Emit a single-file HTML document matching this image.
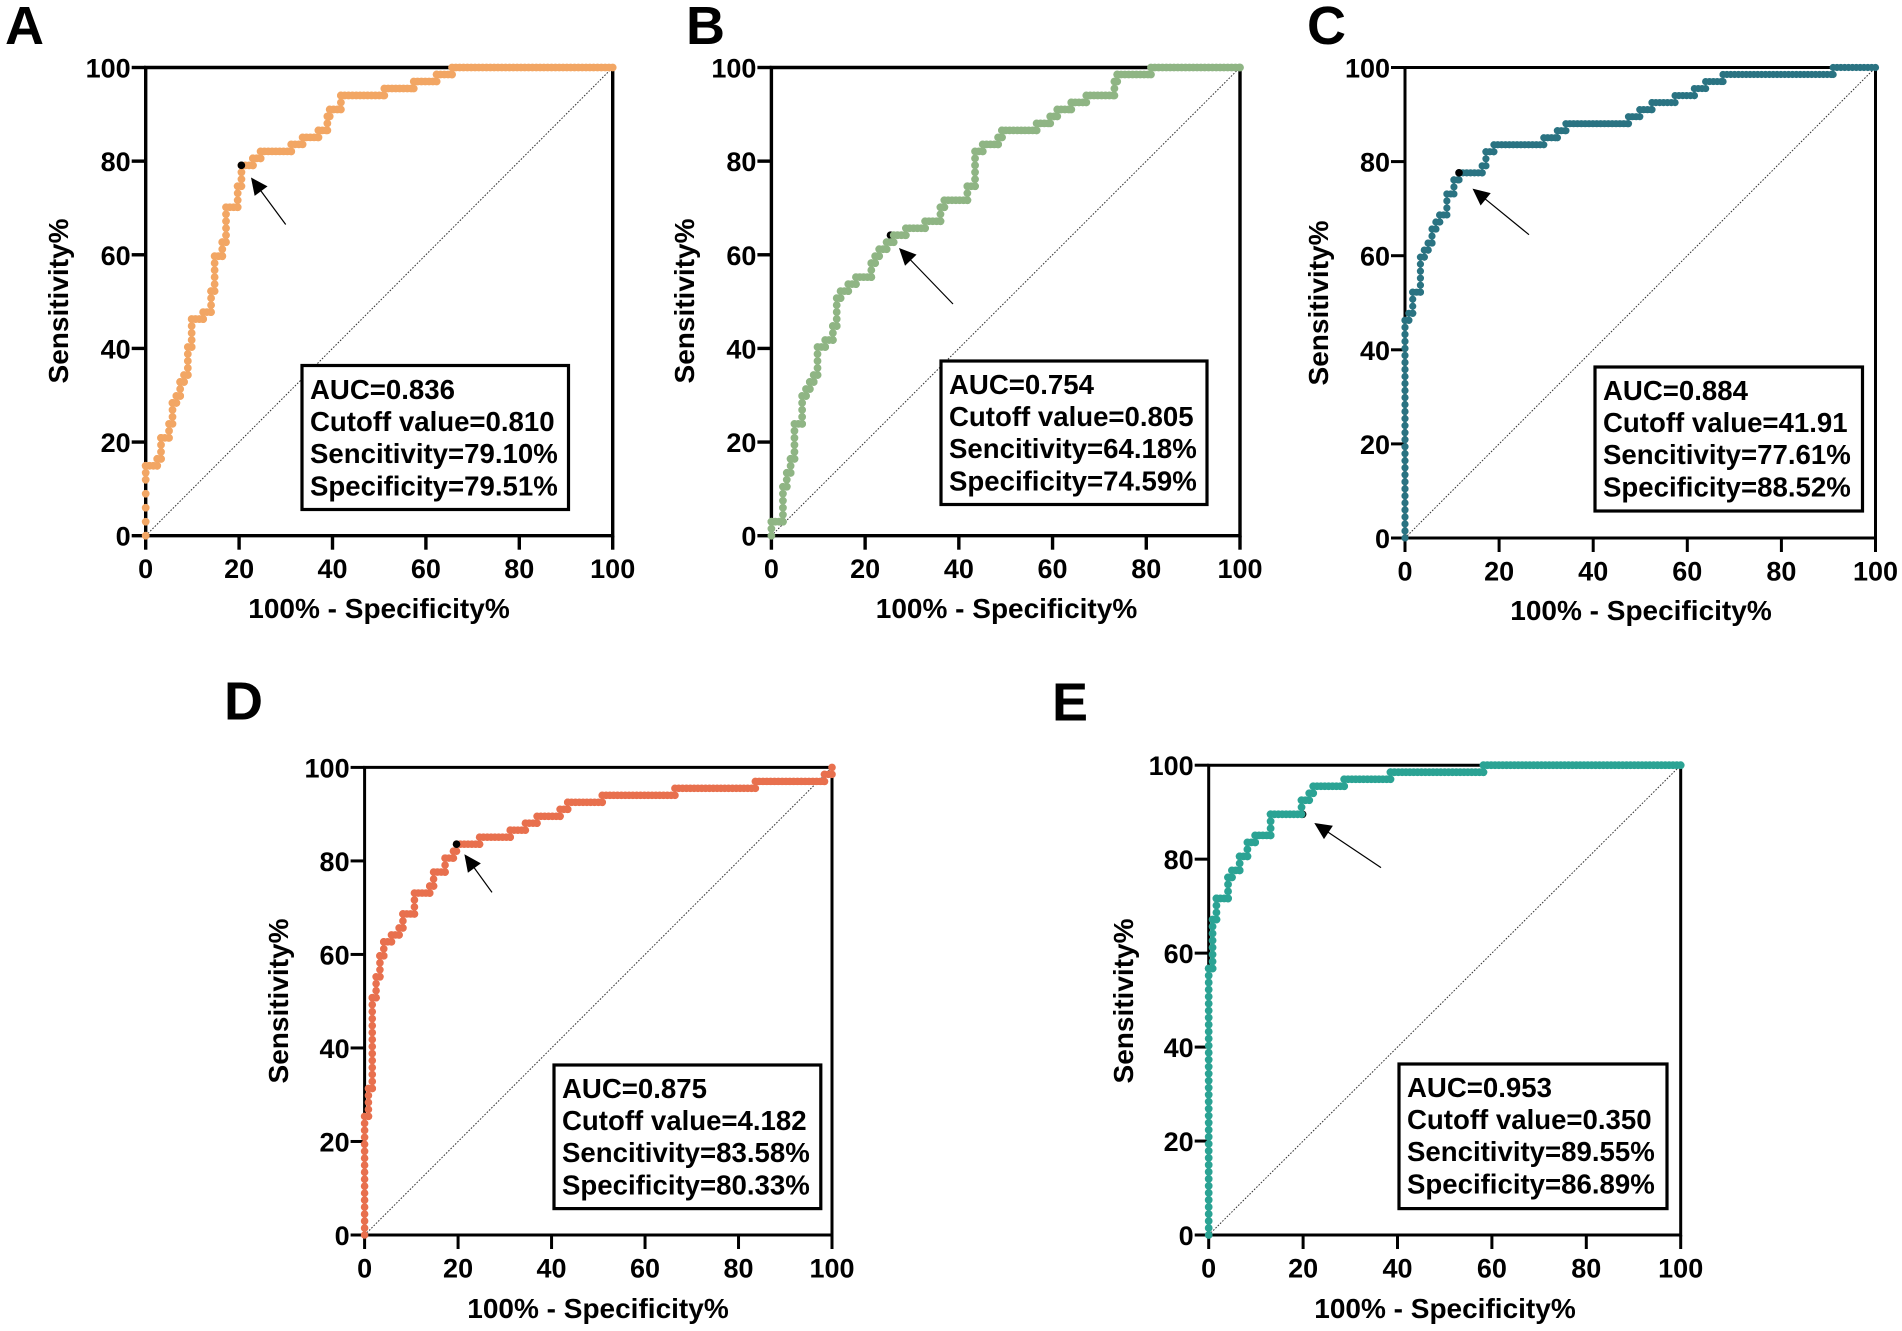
<!DOCTYPE html>
<html lang="en">
<head>
<meta charset="utf-8">
<title>ROC curves A–E</title>
<style>
html,body{margin:0;padding:0;background:#fff}
svg{display:block}
text{font-family:"Liberation Sans",Arial,sans-serif;font-weight:bold;fill:#000}
.panel-letter{font-size:54px}
.axis-title{font-size:28px;text-anchor:middle}
.legend-text{font-size:27.6px}
.tick-text{font-size:27px}
.legend-frame{fill:#fff;stroke:#000;stroke-width:3.2}
</style>
</head>
<body>
<svg id="figure" xmlns="http://www.w3.org/2000/svg" width="1902" height="1331" viewBox="0 0 1902 1331">
  <g id="panel-a">
    <text class="panel-letter" x="5" y="44">A</text>
    <text class="axis-title" x="379" y="618">100% - Specificity%</text>
    <text class="axis-title" transform="translate(68 301) rotate(-90)">Sensitivity%</text>
  </g>
  <g id="panel-b">
    <text class="panel-letter" x="686" y="44">B</text>
    <text class="axis-title" x="1006.5" y="618">100% - Specificity%</text>
    <text class="axis-title" transform="translate(694 301) rotate(-90)">Sensitivity%</text>
  </g>
  <g id="panel-c">
    <text class="panel-letter" x="1307" y="44">C</text>
    <text class="axis-title" x="1641" y="620">100% - Specificity%</text>
    <text class="axis-title" transform="translate(1328 303) rotate(-90)">Sensitivity%</text>
  </g>
  <g id="panel-d">
    <text class="panel-letter" x="224" y="719.5">D</text>
    <text class="axis-title" x="598" y="1318">100% - Specificity%</text>
    <text class="axis-title" transform="translate(288 1001) rotate(-90)">Sensitivity%</text>
  </g>
  <g id="panel-e">
    <text class="panel-letter" x="1052" y="720.5">E</text>
    <text class="axis-title" x="1445" y="1318">100% - Specificity%</text>
    <text class="axis-title" transform="translate(1133 1001) rotate(-90)">Sensitivity%</text>
  </g>
</svg>
<script>
// Chart data: staircase corners (x = 100% - specificity, y = sensitivity)
const tickLabels = [0, 20, 40, 60, 80, 100];

const fprA = [0,0,0,2.46,3.28,5,5.74,6.56,7.38,8.2,9.02,9.84,12.3,14,14.76,16.4,17.2,19.7,20.5,22.96,24.6,31.16,33.6,37,38.9,39.4,41.8,51.1,57.4,62.3,65.6,100];
const tprA = [0,11.94,14.93,16.42,20.9,23.88,28.36,29.85,32.84,34.33,40.3,46.27,47.76,52.24,59.7,62.69,70.15,74.63,79.1,80.6,82.09,83.58,85.07,86.57,89.55,91.04,94.03,95.52,97.01,98.51,100,100];

const fprB = [0,0,2.46,3.28,4.1,4.92,6.56,7.38,8.2,9.02,9.84,11.48,13.12,13.94,14.76,16.4,18.04,21.32,22.14,23,24.6,26.1,28.7,32.8,36.08,36.9,41.82,43.46,45.1,48.38,49.2,56.6,59.5,61,64,67.2,73.2,73.8,81,100];
const tprB = [0,2.99,10.45,13.43,16.42,23.88,29.85,31.34,32.84,34.33,40.3,41.79,44.78,50.75,52.24,53.73,55.22,58.21,59.7,61.19,62.69,64.18,65.67,67.16,70.15,71.64,74.63,82.09,83.58,85.07,86.57,88.06,89.55,91.04,92.54,94.03,97.01,98.51,100,100];

const fprC = [0,0,0.82,1.64,3.28,4.1,4.92,5.74,6.56,7.38,8.9,10.4,11.48,16.4,17.2,18.9,29.5,32.4,34.2,47.5,49.9,52.5,57.4,61.5,63.9,67.6,91,100];
const tprC = [0,46.27,47.76,52.24,59.7,61.19,62.69,65.67,67.16,68.66,73.13,76.12,77.61,79.1,82.09,83.58,85.07,86.57,88.06,89.55,91.04,92.54,94.03,95.52,97.01,98.51,100,100];

const fprD = [0,0,0.82,1.64,2.46,3.28,4.1,5.74,7.38,8.2,10.66,13.94,14.76,17.22,19,19.67,24.6,31.16,34.4,36.9,41.82,43.46,50.84,66.4,83.6,98.4,100];
const tprD = [0,25.37,31.34,50.75,55.22,59.7,62.69,64.18,65.67,68.66,73.13,74.63,77.61,80.6,82.09,83.58,85.07,86.57,88.06,89.55,91.04,92.54,94.03,95.52,97.01,98.51,100];

const fprE = [0,0,0.82,1.64,4.1,4.92,6.56,8.2,9.84,13.12,19.67,21.3,22.14,28.7,38.52,58.2,100];
const tprE = [0,56.72,67.16,71.64,76.12,77.61,80.6,83.58,85.07,89.55,92.54,94.03,95.52,97.01,98.51,100,100];

const cutoffFprA = 20.49, cutoffTprA = 79.10;
const cutoffFprB = 25.41, cutoffTprB = 64.18;
const cutoffFprC = 11.48, cutoffTprC = 77.61;
const cutoffFprD = 19.67, cutoffTprD = 83.58;
const cutoffFprE = 19.9, cutoffTprE = 89.55;

const legendLinesA = ["AUC=0.836","Cutoff value=0.810","Sencitivity=79.10%","Specificity=79.51%"];
const legendLinesB = ["AUC=0.754","Cutoff value=0.805","Sencitivity=64.18%","Specificity=74.59%"];
const legendLinesC = ["AUC=0.884","Cutoff value=41.91","Sencitivity=77.61%","Specificity=88.52%"];
const legendLinesD = ["AUC=0.875","Cutoff value=4.182","Sencitivity=83.58%","Specificity=80.33%"];
const legendLinesE = ["AUC=0.953","Cutoff value=0.350","Sencitivity=89.55%","Specificity=86.89%"];

const NEGATIVES = 122, POSITIVES = 67;
const SVG_NS = 'http://www.w3.org/2000/svg';

function makeEl(tag, parent) {
  const el = document.createElementNS(SVG_NS, tag);
  parent.appendChild(el);
  return el;
}

function drawPanel(p) {
  const root = document.getElementById('panel-' + p.id);
  const sx = v => p.x0 + (p.x1 - p.x0) * v / 100;
  const sy = v => p.y0 + (p.y1 - p.y0) * v / 100;

  // diagonal reference line
  const diag = makeEl('line', root);
  
  
  diag.setAttribute('x1', sx(0)); diag.setAttribute('y1', sy(0));
  diag.setAttribute('x2', sx(100)); diag.setAttribute('y2', sy(100));
  diag.setAttribute('stroke', '#333');
  diag.setAttribute('stroke-width', '1');
  diag.setAttribute('stroke-dasharray', '1.6 1.6');

  // frame
  const frame = makeEl('path', root);
  
  
  frame.setAttribute('d', `M${sx(0)} ${sy(0)}V${sy(100)}H${sx(100)}V${sy(0)}Z`);
  frame.setAttribute('fill', 'none');
  frame.setAttribute('stroke', '#000');
  frame.setAttribute('stroke-width', p.axisWidth);

  // ticks and tick labels
  tickLabels.forEach(t => {
    const xt = makeEl('line', root);
    
    
    xt.setAttribute('x1', sx(t)); xt.setAttribute('x2', sx(t));
    xt.setAttribute('y1', sy(0)); xt.setAttribute('y2', sy(0) + 14);
    xt.setAttribute('stroke', '#000');
    xt.setAttribute('stroke-width', p.axisWidth);

    const yt = makeEl('line', root);
    
    
    yt.setAttribute('x1', sx(0) - 14); yt.setAttribute('x2', sx(0));
    yt.setAttribute('y1', sy(t)); yt.setAttribute('y2', sy(t));
    yt.setAttribute('stroke', '#000');
    yt.setAttribute('stroke-width', p.axisWidth);

    const xl = makeEl('text', root);
    
    
    xl.setAttribute('class', 'tick-text');
    xl.setAttribute('text-anchor', 'middle');
    xl.setAttribute('x', sx(t));
    xl.setAttribute('y', sy(0) + 42.5);
    xl.textContent = t;

    const yl = makeEl('text', root);
    
    
    yl.setAttribute('class', 'tick-text');
    yl.setAttribute('text-anchor', 'end');
    yl.setAttribute('x', sx(0) - 15);
    yl.setAttribute('y', sy(t) + 10);
    yl.textContent = t;
  });

  const series = makeEl('g', root);
  
  

  function cutoffDot() {
    const dot = makeEl('circle', root);
    
    
    dot.setAttribute('cx', sx(p.cutX));
    dot.setAttribute('cy', sy(p.cutY));
    dot.setAttribute('r', 3.8);
    dot.setAttribute('fill', '#000');
  }
  if (p.cutUnder) cutoffDot();
  root.appendChild(series);

  // staircase drawn as round-capped dotted segments, with an optional thin connector
  const xStep = Math.abs(sx(100 / NEGATIVES) - sx(0));
  const yStep = Math.abs(sy(100 / POSITIVES) - sy(0));
  const addSeg = (x1, y1, x2, y2, gap) => {
    if (Math.abs(x2 - x1) < 0.01 && Math.abs(y2 - y1) < 0.01) return;
    if (p.connector) {
      const link = makeEl('path', series);
      
      
      link.setAttribute('d', `M${x1} ${y1}L${x2} ${y2}`);
      link.setAttribute('stroke', p.color);
      link.setAttribute('stroke-width', p.connector);
    }
    const seg = makeEl('path', series);
    
    
    seg.setAttribute('d', `M${x1} ${y1}L${x2} ${y2}`);
    seg.setAttribute('fill', 'none');
    seg.setAttribute('stroke', p.color);
    seg.setAttribute('stroke-width', p.dot * 2);
    seg.setAttribute('stroke-linecap', 'round');
    seg.setAttribute('stroke-dasharray', `0 ${gap}`);
  };
  for (let i = 0; i < p.fpr.length - 1; i++) {
    const xa = p.fpr[i], xb = p.fpr[i + 1], ya = p.tpr[i], yb = p.tpr[i + 1];
    addSeg(sx(xa), sy(ya), sx(xb), sy(ya), xStep);
    const gap = yb <= p.sparseBelow ? yStep * 2 : yStep;
    addSeg(sx(xb), sy(ya), sx(xb), sy(yb), gap);
  }
  const endDot = makeEl('circle', series);
  
  
  endDot.setAttribute('cx', sx(p.fpr[p.fpr.length - 1]));
  endDot.setAttribute('cy', sy(p.tpr[p.tpr.length - 1]));
  endDot.setAttribute('r', p.dot);
  endDot.setAttribute('fill', p.color);

  if (!p.cutUnder) cutoffDot();

  // arrow
  const [tx, ty, hx, hy] = p.arrow;
  const len = Math.hypot(hx - tx, hy - ty), ux = (hx - tx) / len, uy = (hy - ty) / len;
  const shaft = makeEl('line', root);
  
  
  shaft.setAttribute('x1', tx); shaft.setAttribute('y1', ty);
  shaft.setAttribute('x2', hx - ux * 12); shaft.setAttribute('y2', hy - uy * 12);
  shaft.setAttribute('stroke', '#000');
  shaft.setAttribute('stroke-width', '1.2');
  const head = makeEl('polygon', root);
  
  
  const bx = hx - ux * 17, by = hy - uy * 17;
  head.setAttribute('points', `${hx},${hy} ${bx - uy * 8},${by + ux * 8} ${bx + uy * 8},${by - ux * 8}`);
  head.setAttribute('fill', '#000');

  // legend
  const box = makeEl('rect', root);
  
  
  box.setAttribute('class', 'legend-frame');
  box.setAttribute('x', p.box[0]); box.setAttribute('y', p.box[1]);
  box.setAttribute('width', p.box[2] - p.box[0]);
  box.setAttribute('height', p.box[3] - p.box[1]);
  p.legend.forEach((line, i) => {
    const lt = makeEl('text', root);
    
    
    lt.setAttribute('class', 'legend-text');
    lt.setAttribute('x', p.box[0] + 8);
    lt.setAttribute('y', p.textY + i * 32.2);
    lt.textContent = line;
  });
}

drawPanel({id:'a',x0:145.7,x1:612.7,y0:535.7,y1:67.5,axisWidth:3.4,color:'#F2A664',dot:3.9,fpr:fprA,tpr:tprA,sparseBelow:12,cutX:cutoffFprA,cutY:cutoffTprA,cutUnder:false,arrow:[285.7,224.5,251,177.5],box:[302,365.5,568.5,509.5],textY:398.8,legend:legendLinesA});
drawPanel({id:'b',x0:771.4,x1:1240,y0:535.7,y1:67.5,axisWidth:3.4,color:'#8FB584',dot:3.9,fpr:fprB,tpr:tprB,sparseBelow:0,cutX:cutoffFprB,cutY:cutoffTprB,cutUnder:true,arrow:[953,304,899,248],box:[941,361,1207,504.5],textY:393.8,legend:legendLinesB});
drawPanel({id:'c',x0:1405,x1:1875.5,y0:538,y1:67.5,axisWidth:3,color:'#2A7382',dot:3.6,connector:1.6,fpr:fprC,tpr:tprC,sparseBelow:0,cutX:cutoffFprC,cutY:cutoffTprC,cutUnder:false,arrow:[1529,234.7,1472.5,188.6],box:[1595,367,1862.5,511],textY:399.8,legend:legendLinesC});
drawPanel({id:'d',x0:364.6,x1:832,y0:1235,y1:767.4,axisWidth:3,color:'#E8704E',dot:3.8,fpr:fprD,tpr:tprD,sparseBelow:0,cutX:cutoffFprD,cutY:cutoffTprD,cutUnder:false,arrow:[492,892.4,464.4,854.3],box:[554,1065,820.8,1208.6],textY:1097.8,legend:legendLinesD});
drawPanel({id:'e',x0:1208.7,x1:1680.7,y0:1235,y1:765.2,axisWidth:3,color:'#2BA394',dot:3.9,fpr:fprE,tpr:tprE,sparseBelow:0,cutX:cutoffFprE,cutY:cutoffTprE,cutUnder:true,arrow:[1381,867.6,1314.3,823],box:[1399,1064,1667,1208.6],textY:1096.8,legend:legendLinesE});
</script>
</body>
</html>
